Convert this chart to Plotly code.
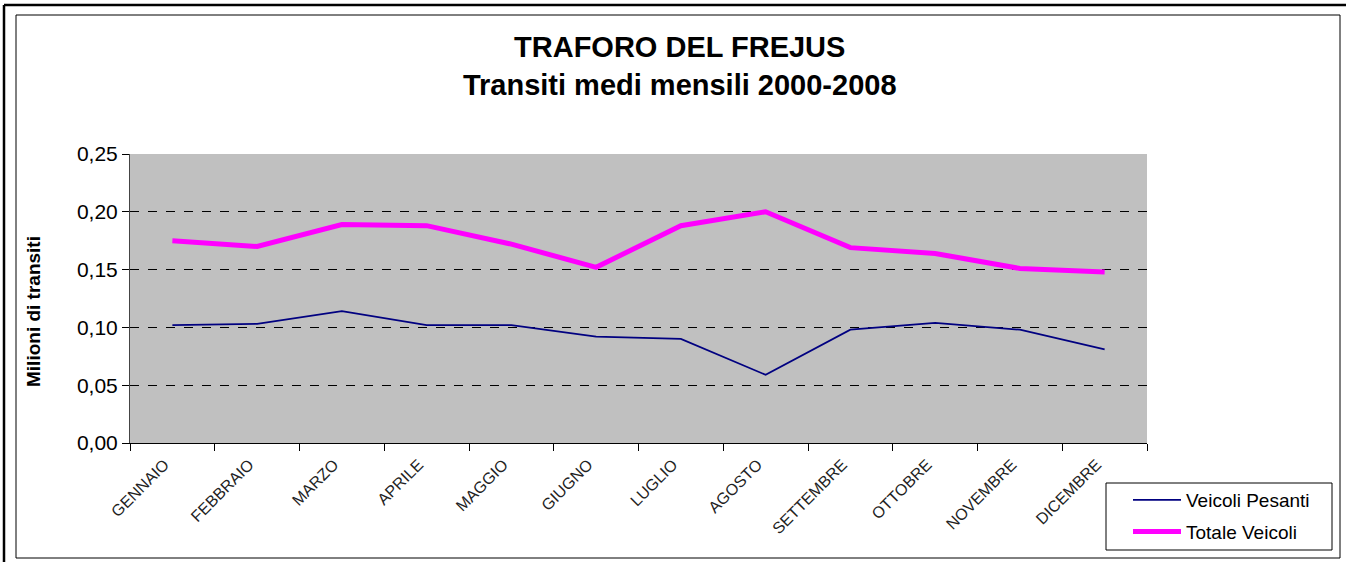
import plotly.graph_objects as go

months = ["GENNAIO", "FEBBRAIO", "MARZO", "APRILE", "MAGGIO", "GIUGNO",
          "LUGLIO", "AGOSTO", "SETTEMBRE", "OTTOBRE", "NOVEMBRE", "DICEMBRE"]
veicoli_pesanti = [0.102, 0.103, 0.114, 0.102, 0.102, 0.092,
                   0.090, 0.059, 0.098, 0.104, 0.098, 0.081]
totale_veicoli = [0.175, 0.170, 0.189, 0.188, 0.172, 0.152,
                  0.188, 0.200, 0.169, 0.164, 0.151, 0.148]
y_ticks = [0.0, 0.05, 0.10, 0.15, 0.20, 0.25]

W, H = 1346, 562
L, R, T, B = 130, 199, 154, 119
PW, PH = W - L - R, H - T - B

def px(x):
    return (x - L) / PW

def py(y):
    return (H - B - y) / PH

FONT = "Arial, Liberation Sans, sans-serif"

fig = go.Figure()
fig.add_trace(go.Scatter(x=months, y=veicoli_pesanti, mode="lines",
                         name="Veicoli Pesanti", legendgroup="a",
                         line=dict(color="#000080", width=1.8)))
fig.add_trace(go.Scatter(x=months, y=totale_veicoli, mode="lines",
                         name="Totale Veicoli", legendgroup="b",
                         line=dict(color="#FF00FF", width=5)))

fig.update_layout(
    width=W, height=H,
    margin=dict(l=L, r=R, t=T, b=B, autoexpand=False),
    paper_bgcolor="white",
    plot_bgcolor="#C0C0C0",
    separators=",.",
    font=dict(family=FONT, color="black"),
    title=dict(text="<b>TRAFORO DEL FREJUS<br>Transiti medi mensili 2000-2008</b>",
               x=0.505, xanchor="center", y=1 - 57 / H, yanchor="middle",
               font=dict(size=29, family=FONT, color="black")),
    showlegend=True,
    legend=dict(x=px(1128), y=py(481), xanchor="left", yanchor="top",
                bgcolor="rgba(0,0,0,0)", borderwidth=0,
                font=dict(size=19, family=FONT, color="black"),
                tracegroupgap=4, itemwidth=48),
    xaxis=dict(type="category", tickangle=-45, tickson="boundaries",
               ticks="outside", ticklen=7, tickcolor="black",
               showline=True, linecolor="black", linewidth=1,
               showgrid=False, automargin=False,
               ticklabelshift=-8, ticklabelstandoff=5,
               tickfont=dict(size=16, family=FONT, color="#222"),
               range=[-0.5, 11.5]),
    yaxis=dict(range=[0, 0.25], tickvals=y_ticks, tickformat=".2f",
               ticks="outside", ticklen=7, tickcolor="black",
               showline=True, linecolor="#444", linewidth=1,
               showgrid=True, gridcolor="black", griddash="dash", gridwidth=1,
               zeroline=False, automargin=False,
               tickfont=dict(size=21, family=FONT, color="black")),
    annotations=[dict(text="<b>Milioni di transiti</b>", textangle=-90,
                      xref="paper", yref="paper", x=px(33), y=py(312),
                      xanchor="center", yanchor="middle", showarrow=False,
                      font=dict(size=19, family=FONT, color="black"))],
)

# outer frames of the chart area
fig.add_shape(type="rect", xref="paper", yref="paper",
              x0=px(16), x1=px(1340), y0=py(558), y1=py(15),
              line=dict(color="black", width=1), layer="below")
fig.add_shape(type="line", xref="paper", yref="paper",
              x0=px(4), x1=px(1346), y0=py(5), y1=py(5),
              line=dict(color="black", width=2.5))
fig.add_shape(type="line", xref="paper", yref="paper",
              x0=px(4), x1=px(4), y0=py(5), y1=py(562),
              line=dict(color="black", width=2.5))
# legend box
fig.add_shape(type="rect", xref="paper", yref="paper",
              x0=px(1106), x1=px(1332), y0=py(550), y1=py(483),
              line=dict(color="black", width=1), fillcolor="white")

fig.write_html("out.html", config={"displayModeBar": False},
               post_script="document.body.style.margin='0';document.body.style.padding='0';")
